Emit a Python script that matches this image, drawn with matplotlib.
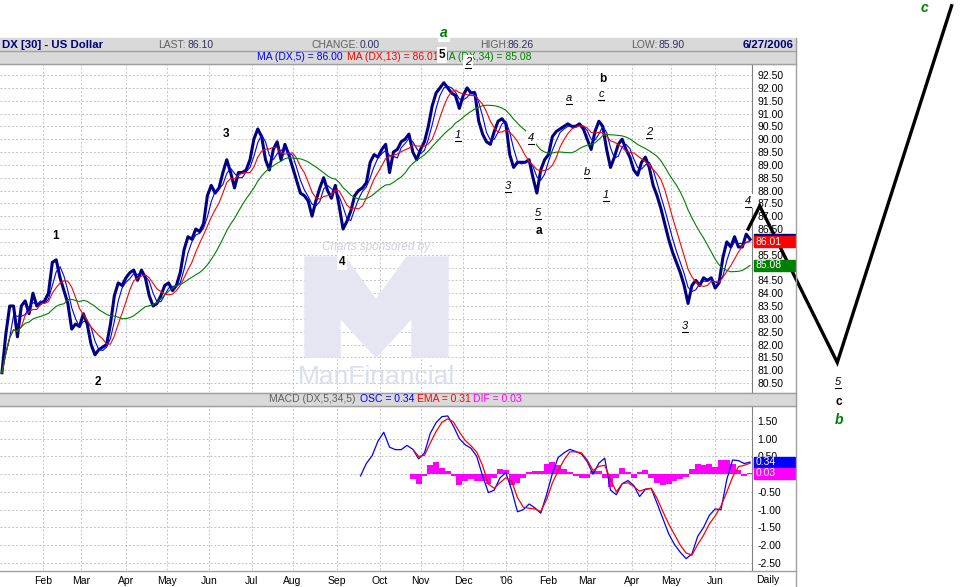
import numpy as np
import pandas as pd
import matplotlib
matplotlib.use('Agg')
import matplotlib.pyplot as plt
from matplotlib.patches import Rectangle, Polygon
from matplotlib.lines import Line2D
from matplotlib.transforms import blended_transform_factory

W, H = 962, 587

# trading days shown on the chart
dates = pd.bdate_range('2005-01-03', '2006-06-27')

# DX closes, one value every 2nd trading day
close = [80.9, 82.4, 83.5, 83.5, 82.3, 83.5, 83.7, 83.2, 84.0, 83.5,
         83.6, 83.7, 84.0, 85.2, 85.3, 84.6, 84.1, 83.6, 82.6, 82.8,
         82.7, 83.2, 82.8, 82.0, 81.6, 81.8, 81.9, 82.0, 82.8, 83.9,
         84.4, 84.3, 84.6, 84.8, 84.9, 84.5, 84.9, 84.6, 83.9, 83.5,
         83.6, 83.9, 84.3, 84.4, 84.1, 84.3, 84.8, 85.7, 86.2, 86.1,
         86.5, 86.4, 86.7, 87.8, 88.2, 87.9, 88.1, 88.7, 89.2, 88.7,
         88.1, 88.7, 88.7, 88.8, 89.2, 90.0, 90.4, 90.1, 89.2, 88.8,
         89.6, 89.9, 89.2, 89.8, 89.4, 88.9, 88.4, 87.9, 87.8, 87.6,
         87.0, 87.6, 88.1, 88.5, 88.0, 87.7, 88.2, 87.4, 86.5, 86.8,
         87.2, 87.8, 88.0, 88.1, 88.3, 89.1, 89.4, 89.3, 89.6, 89.8,
         88.7, 89.5, 89.6, 89.9, 90.0, 90.2, 89.5, 89.2, 89.6, 89.9,
         90.5, 91.3, 91.8, 92.0, 92.2, 92.0, 91.8, 91.7, 91.2, 91.7,
         92.0, 91.8, 91.8, 90.7, 90.2, 89.9, 89.8, 90.3, 90.7, 90.8,
         90.6, 89.4, 88.9, 89.1, 89.1, 89.1, 89.2, 88.5, 87.9, 88.8,
         89.2, 89.4, 90.1, 90.3, 90.4, 90.5, 90.6, 90.5, 90.5, 90.6,
         90.4, 90.0, 89.6, 90.3, 90.7, 90.5, 89.6, 88.9, 89.3, 89.8,
         90.0, 89.6, 89.3, 88.8, 88.6, 89.1, 89.3, 88.9, 88.2, 87.8,
         87.3, 86.7, 86.1, 85.6, 85.2, 84.8, 84.3, 83.6, 84.3, 84.5,
         84.3, 84.6, 84.5, 84.6, 84.2, 84.4, 85.4, 86.0, 85.8, 86.2,
         85.8, 85.8, 86.3, 86.1]

# MACD(5,34,5), one value every 3rd trading day
osc_start = 185
osc = [-0.05, 0.30, 0.52, 0.93, 1.18, 0.76, 0.69, 0.69, 0.81, 0.70,
       0.43, 0.60, 1.15, 1.45, 1.62, 1.64, 1.35, 1.00, 0.83, 0.73,
       0.50, -0.05, -0.52, -0.45, -0.10, 0.04, -0.45, -1.06, -1.00, -0.84,
       -0.95, -1.10, -0.58, 0.02, 0.47, 0.60, 0.70, 0.64, 0.57, 0.35,
       0.00, 0.31, 0.45, -0.45, -0.58, -0.27, -0.18, -0.32, -0.63, -0.43,
       -0.40, -0.82, -1.25, -1.68, -1.98, -2.20, -2.38, -2.25, -1.75, -1.50,
       -1.16, -0.98, -1.00, -0.15, 0.40, 0.38, 0.30, 0.34]
ema_start = 212
ema = [0.70, 0.50, 0.53, 0.88, 1.20, 1.46, 1.56, 1.47, 1.19, 0.95,
       0.80, 0.62, 0.24, -0.28, -0.40, -0.24, -0.10, -0.20, -0.66, -0.93,
       -0.96, -0.98, -1.05, -0.72, -0.25, 0.10, 0.40, 0.63, 0.63, 0.60,
       0.40, 0.10, 0.22, 0.25, -0.15, -0.50, -0.27, -0.24, -0.35, -0.48,
       -0.42, -0.40, -0.68, -1.05, -1.40, -1.70, -2.00, -2.22, -2.28, -1.98,
       -1.72, -1.40, -1.18, -0.90, -0.50, -0.08, 0.21, 0.25, 0.31]
dif = [-0.15, -0.28, -0.05, 0.25, 0.33, 0.18, 0.10, -0.05, -0.30, -0.20,
       -0.15, -0.20, -0.18, -0.28, -0.10, 0.15, 0.12, -0.30, -0.25, -0.10,
       0.05, 0.10, 0.10, 0.30, 0.33, 0.25, 0.15, 0.05, -0.05, -0.12,
       -0.12, 0.10, 0.10, -0.10, -0.35, -0.10, 0.18, 0.05, -0.10, 0.05,
       0.12, -0.10, -0.25, -0.30, -0.28, -0.20, -0.15, -0.08, 0.15, 0.30,
       0.25, 0.30, 0.20, 0.40, 0.40, 0.30, 0.12, -0.05, 0.03]

# Elliott wave projection drawn past the last bar
proj_dates = ['2006-06-26', '2006-07-04', '2006-08-29', '2006-11-20']
proj_price = [86.5, 87.4, 81.3, 95.2]

last, ma5_last, ma13_last, ma34_last = 86.10, 86.00, 86.01, 85.08


def fx(px):
    return px / W


def fy(py):
    return 1 - py / H


plt.rcParams['font.family'] = ['Liberation Sans', 'DejaVu Sans']
fig = plt.figure(figsize=(W / 100, H / 100), dpi=100)
fig.patch.set_facecolor('white')

ax1 = fig.add_axes([0, fy(392), fx(752), (392 - 64) / H])
ax2 = fig.add_axes([0, fy(570), fx(752), (570 - 406) / H])

cx = np.arange(len(close)) * 2
cs = pd.Series(close)
ax1.plot(cx, close, color='#000080', lw=2.2, zorder=2)
ax1.plot(cx, cs.rolling(3, min_periods=1).mean(), color='#0000ff', lw=0.8, zorder=3)
ax1.plot(cx, cs.rolling(6, min_periods=1).mean(), color='#ff0000', lw=0.8, zorder=3)
ax1.plot(cx, cs.rolling(17, min_periods=1).mean(), color='#008000', lw=0.8, zorder=3)

px_idx = [np.busday_count('2005-01-03', d) for d in proj_dates]
ax1.plot(px_idx, proj_price, color='black', lw=2.4, clip_on=False, zorder=6,
         solid_joinstyle='miter')

ox = osc_start + 3 * np.arange(len(osc))
ex = ema_start + 3 * np.arange(len(ema))
ax2.bar(ex, dif, width=3, color='#ff00ff', lw=0, zorder=1.5)
ax2.plot(ox, osc, color='#0000ff', lw=0.9, zorder=3)
ax2.plot(ex, ema, color='#ff0000', lw=0.9, zorder=3)

months = pd.date_range('2005-02-01', '2006-06-01', freq='MS')
mpos = dates.searchsorted(months)
mlab = ["'06" if m.month == 1 else m.strftime('%b') for m in months]

for ax in (ax1, ax2):
    ax.set_facecolor('none')
    ax.set_xlim(-1, 387)
    ax.set_xticks(mpos)
    ax.grid(True, color='#c4c4c4', ls=(0, (2, 2)), lw=0.7)
    ax.set_axisbelow(True)
    ax.yaxis.tick_right()
    ax.tick_params(axis='y', length=0, pad=4, labelsize=7.5)
    for s in ('top', 'left', 'bottom'):
        ax.spines[s].set_visible(False)
    ax.spines['right'].set_color('#808080')

# labels hidden under the value boxes are left blank
ax1.set_ylim(80.15, 92.93)
pt = np.arange(80.5, 92.51, 0.5)
ax1.set_yticks(pt)
ax1.set_yticklabels(['' if v in (85.0, 86.0) else f'{v:.2f}' for v in pt])
ax1.tick_params(axis='x', length=0, labelbottom=False)

ax2.set_ylim(-2.70, 1.92)
mt = np.arange(-2.5, 1.51, 0.5)
ax2.set_yticks(mt)
ax2.set_yticklabels(['' if abs(v) < 1e-9 else f'{v:.2f}' for v in mt])
ax2.set_xticklabels(mlab)
ax2.tick_params(axis='x', length=0, pad=4, labelsize=7.5)

# value boxes on the right axes
def vbox(ax, val, h, color, txt):
    tr = blended_transform_factory(ax.transAxes, ax.transData)
    ax.add_patch(Rectangle((1 + 2 / 752, val - h / 2), 41 / 752, h, transform=tr,
                           color=color, clip_on=False, zorder=7))
    if txt:
        ax.text(1 + 4 / 752, val, txt, transform=tr, color='white', fontsize=7.5,
                va='center', ha='left', clip_on=False, zorder=8)

vbox(ax1, last, 0.43, '#000080', '')
vbox(ax1, ma13_last, 0.43, '#ff0000', f'{ma13_last:.2f}')
vbox(ax1, ma34_last, 0.43, '#008000', f'{ma34_last:.2f}')
vbox(ax2, 0.31, 0.31, '#ff0000', '')
vbox(ax2, 0.34, 0.31, '#0000ff', '0.34')
vbox(ax2, 0.03, 0.31, '#ff00ff', '0.03')

# header bars and frame
def frect(x0, y0, x1, y1, c):
    fig.patches.append(Rectangle((fx(x0), fy(y1)), fx(x1) - fx(x0), (y1 - y0) / H,
                                 transform=fig.transFigure, color=c, zorder=-1))

def fline(x0, y0, x1, y1, c='#a0a0a0', lw=1, z=2):
    fig.lines.append(Line2D([fx(x0), fx(x1)], [fy(y0), fy(y1)],
                            transform=fig.transFigure, color=c, lw=lw, zorder=z))

frect(0, 38, 796, 64, '#d9d9d9')
frect(0, 393, 796, 406, '#d9d9d9')
fline(0, 50.5, 796, 50.5)
fline(0, 63.5, 796, 63.5)
fline(0, 392.5, 796, 392.5)
fline(0, 406, 796, 406)
fline(0, 570.5, 796, 570.5)
fline(796, 38, 796, 587)

def ftext(px, py, s, **kw):
    fig.text(fx(px), fy(py), s, va='center', **kw)

ftext(2, 44.5, 'DX [30] - US Dollar', color='#000080', fontsize=8.2, fontweight='bold')
ftext(158, 44.5, 'LAST:', color='#606060', fontsize=7.5)
ftext(187, 44.5, f'{last:.2f}', color='#303060', fontsize=7.5)
ftext(312, 44.5, 'CHANGE:', color='#606060', fontsize=7.5)
ftext(360, 44.5, '0.00', color='#303060', fontsize=7.5)
ftext(480, 44.5, 'HIGH:', color='#606060', fontsize=7.5)
ftext(508, 44.5, '86.26', color='#303060', fontsize=7.5)
ftext(631, 44.5, 'LOW:', color='#606060', fontsize=7.5)
ftext(659, 44.5, '85.90', color='#303060', fontsize=7.5)
ftext(794, 44.5, '6/27/2006', color='#000080', fontsize=8.2, fontweight='bold', ha='right')
ftext(257, 57, f'MA (DX,5) = {ma5_last:.2f}', color='#0000ff', fontsize=7.5)
ftext(347, 57, f'MA (DX,13) = {ma13_last:.2f}', color='#ff0000', fontsize=7.5)
ftext(440, 57, f'MA (DX,34) = {ma34_last:.2f}', color='#008000', fontsize=7.5)
ftext(269, 399.5, 'MACD (DX,5,34,5)', color='#606060', fontsize=7.5)
ftext(360, 399.5, 'OSC = 0.34', color='#0000ff', fontsize=7.5)
ftext(417, 399.5, 'EMA = 0.31', color='#ff0000', fontsize=7.5)
ftext(473, 399.5, 'DIF = 0.03', color='#ff00ff', fontsize=7.5)
ftext(768, 580, 'Daily', color='black', fontsize=7.5, ha='center')

# sponsor watermark behind the price bars
ax1.text(fx(378), fy(247), 'Charts sponsored by:', transform=fig.transFigure,
         ha='center', va='center', fontsize=8.5, style='italic', color='#d0d0da', zorder=0.6)
mlogo = [(305, 257), (345, 257), (376, 300), (407, 257), (448, 257), (448, 357),
         (412, 357), (412, 318), (376, 357), (340, 318), (340, 357), (305, 357)]
ax1.add_patch(Polygon([(fx(a), fy(b)) for a, b in mlogo], closed=True,
                      transform=fig.transFigure, color='#e6e6f3', zorder=0.6))
ax1.text(fx(377), fy(377), 'ManFinancial', transform=fig.transFigure,
         ha='center', va='center', fontsize=19, color='#dadeee', zorder=0.6)

# wave count labels
def wlabel(s, px, py, kind):
    if kind == 'bold':
        kw = dict(fontsize=8.5, fontweight='bold', color='black')
    elif kind == 'ul':
        kw = dict(fontsize=8, style='italic', color='black')
    else:
        kw = dict(fontsize=10, fontweight='bold', style='italic', color='#008000')
    fig.text(fx(px), fy(py), s, ha='center', va='center', zorder=9,
             bbox=dict(boxstyle='square,pad=0.15', fc='white', ec='none'), **kw)
    if kind == 'ul':
        fline(px - 3, py + 6, px + 3, py + 6, c='black', lw=0.8, z=10)

labels = [('1', 56, 236, 'bold'), ('2', 98, 382, 'bold'), ('3', 226, 134, 'bold'),
          ('4', 342, 262, 'bold'), ('5', 442, 55, 'bold'), ('a', 539, 231, 'bold'),
          ('b', 603, 79, 'bold'), ('c', 839, 402, 'bold'),
          ('2', 468, 62, 'ul'), ('1', 458, 135, 'ul'), ('3', 508, 186, 'ul'),
          ('4', 531, 138, 'ul'), ('5', 538, 213, 'ul'), ('a', 569, 98, 'ul'),
          ('c', 601, 94, 'ul'), ('b', 587, 172, 'ul'), ('1', 606, 195, 'ul'),
          ('2', 649, 132, 'ul'), ('3', 685, 326, 'ul'), ('4', 748, 201, 'ul'),
          ('5', 838, 382, 'ul'),
          ('a', 444, 33, 'green'), ('b', 839, 420, 'green'), ('c', 924, 8, 'green')]
for s, px, py, kind in labels:
    wlabel(s, px, py, kind)

fig.savefig('out.png', dpi=100)
